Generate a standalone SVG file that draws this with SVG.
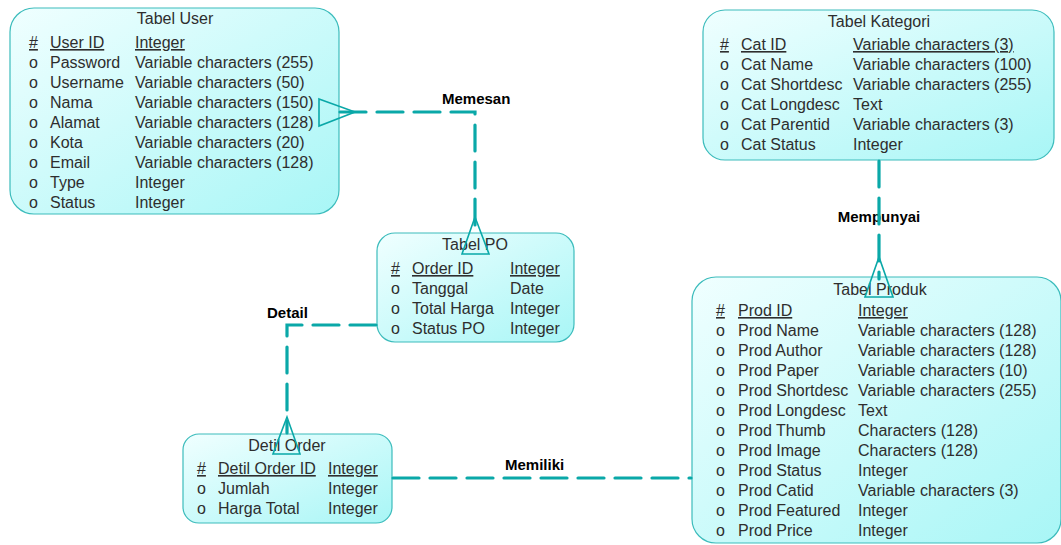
<svg xmlns="http://www.w3.org/2000/svg" width="1061" height="545" viewBox="0 0 1061 545">
<defs>
<linearGradient id="fill" x1="0" y1="0" x2="1" y2="1">
<stop offset="0" stop-color="#f0ffff"/>
<stop offset="1" stop-color="#a8f6f6"/>
</linearGradient>
</defs>
<style>
.box{fill:url(#fill);stroke:#3cbcbc;stroke-width:1.2}
text{font-family:"Liberation Sans",Arial,sans-serif;font-size:16px;fill:#2e2e2e}
.t{text-anchor:middle}
.u{text-decoration:underline}
.lbl{font-weight:bold;font-size:15px;fill:#000}
.ln{fill:none;stroke:#0aa8a8;stroke-width:3.2;stroke-dasharray:26 11;stroke-linecap:round}
.cf{fill:none;stroke:#0aa8a8;stroke-width:1.6}
</style>
<rect width="1061" height="545" fill="#fff"/>

<g id="labels">
<text class="lbl" x="442" y="104">Memesan</text>
<text class="lbl" x="879" y="222" text-anchor="middle">Mempunyai</text>
<text class="lbl" x="267" y="318">Detail</text>
<text class="lbl" x="505" y="470">Memiliki</text>
</g>

<g id="user">
<rect class="box" x="10" y="8" width="329" height="206" rx="24"/>
<text class="t" x="175" y="24">Tabel User</text>
<text class="u" x="29" y="48">#</text><text class="u" x="50" y="48">User ID</text><text class="u" x="135" y="48">Integer</text>
<text x="29" y="68">o</text><text x="50" y="68">Password</text><text x="135" y="68">Variable characters (255)</text>
<text x="29" y="88">o</text><text x="50" y="88">Username</text><text x="135" y="88">Variable characters (50)</text>
<text x="29" y="108">o</text><text x="50" y="108">Nama</text><text x="135" y="108">Variable characters (150)</text>
<text x="29" y="128">o</text><text x="50" y="128">Alamat</text><text x="135" y="128">Variable characters (128)</text>
<text x="29" y="148">o</text><text x="50" y="148">Kota</text><text x="135" y="148">Variable characters (20)</text>
<text x="29" y="168">o</text><text x="50" y="168">Email</text><text x="135" y="168">Variable characters (128)</text>
<text x="29" y="188">o</text><text x="50" y="188">Type</text><text x="135" y="188">Integer</text>
<text x="29" y="208">o</text><text x="50" y="208">Status</text><text x="135" y="208">Integer</text>
</g>

<g id="po">
<rect class="box" x="377" y="233" width="197" height="109" rx="18"/>
<text class="t" x="475" y="250">Tabel PO</text>
<text class="u" x="391" y="274">#</text><text class="u" x="412" y="274">Order ID</text><text class="u" x="510" y="274">Integer</text>
<text x="391" y="294">o</text><text x="412" y="294">Tanggal</text><text x="510" y="294">Date</text>
<text x="391" y="314">o</text><text x="412" y="314">Total Harga</text><text x="510" y="314">Integer</text>
<text x="391" y="334">o</text><text x="412" y="334">Status PO</text><text x="510" y="334">Integer</text>
</g>

<g id="kategori">
<rect class="box" x="703" y="10" width="351" height="150" rx="22"/>
<text class="t" x="879" y="27">Tabel Kategori</text>
<text class="u" x="720" y="50">#</text><text class="u" x="741" y="50">Cat ID</text><text class="u" x="853" y="50">Variable characters (3)</text>
<text x="720" y="70">o</text><text x="741" y="70">Cat Name</text><text x="853" y="70">Variable characters (100)</text>
<text x="720" y="90">o</text><text x="741" y="90">Cat Shortdesc</text><text x="853" y="90">Variable characters (255)</text>
<text x="720" y="110">o</text><text x="741" y="110">Cat Longdesc</text><text x="853" y="110">Text</text>
<text x="720" y="130">o</text><text x="741" y="130">Cat Parentid</text><text x="853" y="130">Variable characters (3)</text>
<text x="720" y="150">o</text><text x="741" y="150">Cat Status</text><text x="853" y="150">Integer</text>
</g>

<g id="produk">
<rect class="box" x="692" y="277" width="369" height="266" rx="24"/>
<text class="t" x="880" y="295">Tabel Produk</text>
<text class="u" x="716" y="316">#</text><text class="u" x="738" y="316">Prod ID</text><text class="u" x="858" y="316">Integer</text>
<text x="716" y="336">o</text><text x="738" y="336">Prod Name</text><text x="858" y="336">Variable characters (128)</text>
<text x="716" y="356">o</text><text x="738" y="356">Prod Author</text><text x="858" y="356">Variable characters (128)</text>
<text x="716" y="376">o</text><text x="738" y="376">Prod Paper</text><text x="858" y="376">Variable characters (10)</text>
<text x="716" y="396">o</text><text x="738" y="396">Prod Shortdesc</text><text x="858" y="396">Variable characters (255)</text>
<text x="716" y="416">o</text><text x="738" y="416">Prod Longdesc</text><text x="858" y="416">Text</text>
<text x="716" y="436">o</text><text x="738" y="436">Prod Thumb</text><text x="858" y="436">Characters (128)</text>
<text x="716" y="456">o</text><text x="738" y="456">Prod Image</text><text x="858" y="456">Characters (128)</text>
<text x="716" y="476">o</text><text x="738" y="476">Prod Status</text><text x="858" y="476">Integer</text>
<text x="716" y="496">o</text><text x="738" y="496">Prod Catid</text><text x="858" y="496">Variable characters (3)</text>
<text x="716" y="516">o</text><text x="738" y="516">Prod Featured</text><text x="858" y="516">Integer</text>
<text x="716" y="536">o</text><text x="738" y="536">Prod Price</text><text x="858" y="536">Integer</text>
</g>

<g id="detil">
<rect class="box" x="183" y="434" width="209" height="89" rx="16"/>
<text class="t" x="287" y="451">Detil Order</text>
<text class="u" x="197" y="474">#</text><text class="u" x="218" y="474">Detil Order ID</text><text class="u" x="328" y="474">Integer</text>
<text x="197" y="494">o</text><text x="218" y="494">Jumlah</text><text x="328" y="494">Integer</text>
<text x="197" y="514">o</text><text x="218" y="514">Harga Total</text><text x="328" y="514">Integer</text>
</g>

<g id="connectors">
<path class="ln" d="M340 112 H475 V232"/>
<path class="cf" d="M319 99 L355 112 L319 126 Z M475 217 L462 254 H489 Z"/>
<path class="ln" d="M879 161 V279"/>
<path class="cf" d="M879 257 L865 297 H893 Z"/>
<path class="ln" d="M376 325 H287 V433"/>
<path class="cf" d="M287 417 L273 454 H300 Z"/>
<path class="ln" d="M393 478 H691"/>
</g>
</svg>
